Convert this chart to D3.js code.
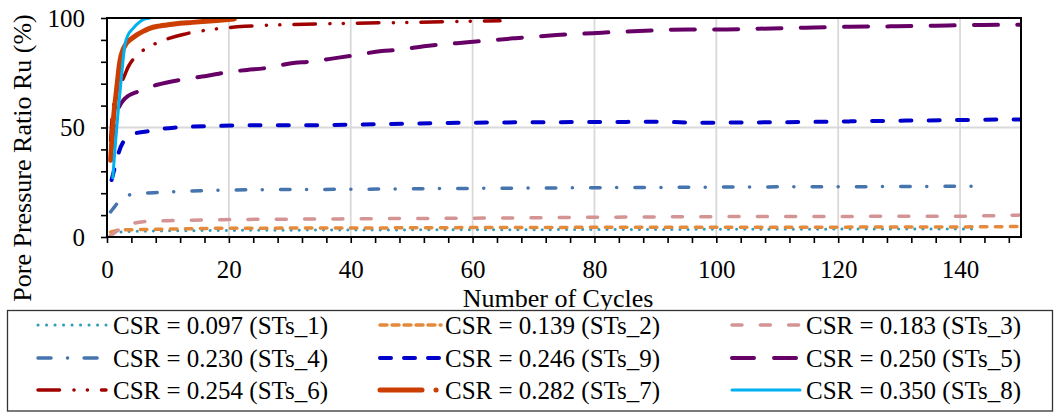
<!DOCTYPE html>
<html><head><meta charset="utf-8">
<script src="https://cdn.jsdelivr.net/npm/d3@7"></script>
<style>
body{margin:0;background:#fff}
svg{display:block}
svg text{font-family:'Liberation Serif','Times New Roman',Tinos,'DejaVu Serif','Noto Serif',serif !important;fill:#000}
</style>
</head><body>
<svg id="chart" width="1054" height="412"></svg>
<script>
// ---- data (cycles, Ru %) ----
const xTickValues = [0, 20, 40, 60, 80, 100, 120, 140];
const yTickValues = [0, 50, 100];
const seriesLabels = ["CSR = 0.097 (STs_1)", "CSR = 0.139 (STs_2)", "CSR = 0.183 (STs_3)",
  "CSR = 0.230 (STs_4)", "CSR = 0.246 (STs_9)", "CSR = 0.250 (STs_5)",
  "CSR = 0.254 (STs_6)", "CSR = 0.282 (STs_7)", "CSR = 0.350 (STs_8)"];

const sts1 = [[1,1.5],[2,2.2],[5,2.6],[10,2.8],[20,3.0],[40,3.2],[60,3.3],[80,3.4],[100,3.5],[120,3.6],[142,3.7]];
const sts2 = [[0.6,2.2],[1,2.6],[2,3.1],[5,3.4],[8,3.5],[19,4.0],[40,4.1],[60,4.3],[80,4.4],[100,4.4],[120,4.5],[140,4.6],[150,4.8]];
const sts3 = [[0.5,0.5],[1,1.5],[2,3.5],[2.7,4.7],[4,6.0],[6,7.0],[10.9,7.5],[19,7.9],[40,8.3],[60,8.6],[80,9.0],[100,9.3],[120,9.4],[140,9.5],[148,9.9],[150,10]];
const sts4 = [[0.6,11.5],[1.3,14],[2.1,16.9],[3,18.5],[4.6,19.7],[9,20.4],[15.2,21.1],[21.2,21.5],[40,21.8],[60,22.2],[80,22.5],[95,22.7],[110,22.9],[125,23.0],[142.3,23.2]];
const sts9 = [[0.75,26],[1.3,32],[1.86,38],[2.7,43.5],[4.6,47.3],[6.5,48.2],[8.7,49.3],[11.4,50],[18,50.7],[23,51],[30,51],[40,51.3],[50,51.8],[60,52.2],[70,52.4],[80,52.5],[90,52.6],[98,52.2],[105,52.3],[114,52.5],[122,52.8],[130,53.1],[140,53.4],[148,53.7],[150,53.7]];
const sts5 = [[0.7,40],[1.0,48],[1.6,56.5],[2.2,60.5],[2.7,62.5],[3.5,64.5],[5.1,66.4],[8.1,69.4],[12.5,72],[16.3,73.5],[19.6,75.2],[23,76.3],[25.7,77],[30.9,79.6],[33,80],[38,81.9],[40.2,82.8],[45.1,84.9],[47.5,85.4],[52.4,87.2],[59.6,89],[66.7,90.7],[73.8,92.2],[81.2,93.3],[88.3,94.2],[95.4,94.8],[100,94.8],[107,95.1],[114.7,95.6],[121.8,96],[128.9,96.2],[136,96.5],[143,96.8],[150,96.9]];
const sts6 = [[0.6,44],[0.8,53],[1.3,63],[2.0,69],[2.6,72],[3.5,77.8],[4.9,83],[6.7,86.5],[8.5,89],[10.3,90.8],[12.5,92.5],[14.4,93.6],[17,94.7],[19.5,95.5],[22.6,96.2],[30,97],[40,97.6],[50,98],[60,98.5],[64.5,98.7]];
const sts7 = [[0.6,35],[1.0,52],[1.6,68],[2.1,80],[2.7,86],[3.2,88.5],[4.0,90.5],[4.9,92.3],[6.0,94],[7.0,95.3],[8.5,96.3],[9.8,96.8],[12,97.6],[14,98],[16.3,98.5],[18.5,99],[20.9,99.6]];
const sts8 = [[0.95,27],[1.3,40],[1.85,58],[2.4,74],[2.95,88],[3.5,92.5],[4.1,94.7],[5.4,98.3],[6.3,99.6],[7,100]];

// ---- styles ----
const seriesData = [sts1, sts2, sts3, sts4, sts9, sts5, sts6, sts7, sts8];
const colors = ["#339CBB", "#E48A3C", "#D49494", "#4674AE", "#0000CC", "#660066", "#A00000", "#CC3D00", "#00B0F0"];
const widths = [3, 3.5, 3.5, 3.5, 4, 4, 3.5, 5, 3];
const dashes = ["0.1,8", "6.5,8.5", "10,18.3", "9.5,16.5,0.1,18.2", "11,17.3", "24,19.3",
  "21.5,14.45,0.1,13.3,0.1,14.05", null, null];
const legendDashes = ["0.1,8.4", "7,5", "10,18.3", "13,16.5,0.1,16.5", "11,13", "22,20",
  "21.5,14.45,0.1,13.3,0.1,14.05", "42,14,0.1,30", null];

const FONT = "'Liberation Serif','Times New Roman',Tinos,'DejaVu Serif','Noto Serif',serif";
const svg = d3.select("#chart");
const X0 = 107, X1 = 1021, Y0 = 237, Y1 = 18;
const x = d3.scaleLinear().domain([0, 150]).range([X0, X1]);
const y = d3.scaleLinear().domain([0, 100]).range([Y0, Y1]);

svg.append("rect").attr("width", 1054).attr("height", 412).attr("fill", "#fff");

// gridlines
svg.append("g").selectAll("line").data(xTickValues.filter(v => v > 0)).join("line")
  .attr("x1", d => x(d)).attr("x2", d => x(d)).attr("y1", Y0).attr("y2", Y1)
  .attr("stroke", "#D9D9D9").attr("stroke-width", 1.8);
svg.append("g").selectAll("line").data(yTickValues.filter(v => v > 0 && v < 100)).join("line")
  .attr("x1", X0).attr("x2", X1).attr("y1", d => y(d)).attr("y2", d => y(d))
  .attr("stroke", "#D9D9D9").attr("stroke-width", 1.8);

// clip
svg.append("clipPath").attr("id", "clip").append("rect")
  .attr("x", X0).attr("y", Y1).attr("width", X1 - X0).attr("height", Y0 - Y1);

const line = d3.line().x(d => x(d[0])).y(d => y(d[1])).curve(d3.curveMonotoneX);
const gS = svg.append("g").attr("clip-path", "url(#clip)");
seriesData.forEach((s, i) => {
  gS.append("path").attr("d", line(s)).attr("fill", "none")
    .attr("stroke", colors[i]).attr("stroke-width", widths[i])
    .attr("stroke-linecap", "round").attr("stroke-linejoin", "round")
    .attr("stroke-dasharray", dashes[i]);
});

// axes
const xMinor = d3.axisBottom(x).tickValues(d3.range(0, 150, 4)).tickSize(6).tickFormat("");
const yMinor = d3.axisLeft(y).tickValues(d3.range(0, 101, 10)).tickSize(6).tickFormat("");
const gx = svg.append("g").attr("transform", `translate(0,${Y0})`).call(xMinor);
const gy = svg.append("g").attr("transform", `translate(${X0},0)`).call(yMinor);
[gx, gy].forEach(g => {
  g.select(".domain").remove();
  g.selectAll(".tick line").attr("stroke", "#000").attr("stroke-width", 1.6);
});
const xLab = svg.append("g").attr("transform", `translate(0,${Y0})`)
  .call(d3.axisBottom(x).tickValues(xTickValues).tickSize(0).tickPadding(23));
const yLab = svg.append("g").attr("transform", `translate(${X0},0)`)
  .call(d3.axisLeft(y).tickValues(yTickValues).tickSize(0).tickPadding(22));
[xLab, yLab].forEach(g => {
  g.attr("font-family", FONT).attr("font-size", 25);
  g.select(".domain").remove();
  g.selectAll("text").attr("font-size", 25).attr("font-family", FONT).attr("fill", "#000");
});

// frame
svg.append("rect").attr("x", X0).attr("y", Y1).attr("width", X1 - X0).attr("height", Y0 - Y1)
  .attr("fill", "none").attr("stroke", "#000").attr("stroke-width", 2);

// axis titles
svg.append("text").attr("transform", "translate(31,158) rotate(-90)").attr("font-family", FONT)
  .attr("text-anchor", "middle").attr("font-size", 26).text("Pore Pressure Ratio Ru (%)");
svg.append("text").attr("x", 558).attr("y", 307).attr("font-family", FONT)
  .attr("text-anchor", "middle").attr("font-size", 26).text("Number of Cycles");

// legend
const lg = svg.append("g");
lg.append("rect").attr("x", 7.5).attr("y", 310.5).attr("width", 1045).attr("height", 100.5)
  .attr("fill", "#fff").attr("stroke", "#333").attr("stroke-width", 1.3);
const colL0 = [38, 380, 732], colL1 = [106, 441, 800], colT = [113, 445, 806];
const rowY = [325, 358, 390];
seriesLabels.forEach((lab, i) => {
  const c = i % 3, r = Math.floor(i / 3);
  lg.append("line").attr("x1", colL0[c]).attr("x2", colL1[c]).attr("y1", rowY[r]).attr("y2", rowY[r])
    .attr("stroke", colors[i]).attr("stroke-width", widths[i])
    .attr("stroke-linecap", "round").attr("stroke-dasharray", legendDashes[i]);
  lg.append("text").attr("x", colT[c]).attr("y", rowY[r] + 8.5).attr("font-family", FONT)
    .attr("font-size", 25).text(lab);
});
</script>
</body></html>
